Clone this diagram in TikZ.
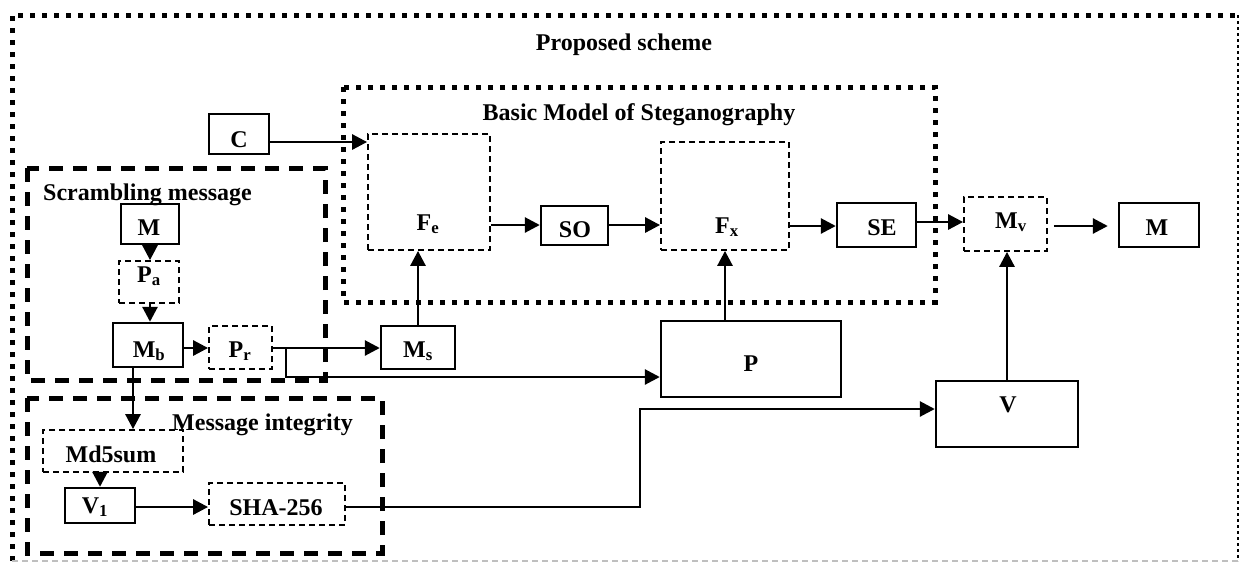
\documentclass[tikz,border=0pt]{standalone}
\usepackage{fontspec}
\setmainfont{Liberation Serif}
\usetikzlibrary{arrows.meta}
\begin{document}
\begin{tikzpicture}[x=1pt,y=-1pt,
  every node/.style={font=\fontsize{24}{28}\selectfont\bfseries},
  sbox/.style={draw,line width=2.4pt,inner sep=0pt},
  dbox/.style={draw,line width=1.8pt,dash pattern=on 6pt off 4pt,inner sep=0pt},
  txt/.style={inner sep=0pt,anchor=base},
  arr/.style={line width=2.8pt,-{Triangle[length=15pt,width=15pt]}},
  thickdot/.style={line width=5pt,dash pattern=on 5pt off 7pt},
  thickdash/.style={line width=5pt,dash pattern=on 14pt off 10pt}
]
\useasboundingbox (0,0) rectangle (1240,563);

% containers
\draw[thickdot] (12,561) -- (12,15) -- (1238,15);
\draw[line width=2.5pt,dash pattern=on 3pt off 3pt] (1238,15) -- (1238,561);
\draw[gray!50,line width=1.5pt,dash pattern=on 6pt off 4pt] (12,561) -- (1238,561);
\draw[thickdot] (343,87) rectangle (935,302);
\draw[thickdash] (27,168) rectangle (325,380);
\draw[thickdash] (27,398) rectangle (382,553);

\node[txt] (tProp) at (624,50) {Proposed scheme};
\node[txt] (tBasic) at (639,120) {Basic Model of Steganography};
\node[txt,anchor=base west] (tScr) at (43,200) {Scrambling message};
\node[txt,anchor=base west] (tInt) at (172,430) {Message integrity};

% boxes
\node[sbox,minimum width=60pt,minimum height=40pt] (C) at (239,134) {};
\node[dbox,minimum width=122pt,minimum height=116pt] (Fe) at (429,192) {};
\node[sbox,minimum width=67pt,minimum height=39pt] (SO) at (574.5,225.5) {};
\node[dbox,minimum width=128pt,minimum height=108pt] (Fx) at (725,196) {};
\node[sbox,minimum width=79pt,minimum height=44pt] (SE) at (876.5,225) {};
\node[dbox,minimum width=83pt,minimum height=54pt] (Mv) at (1005.5,224) {};
\node[sbox,minimum width=80pt,minimum height=44pt] (Mout) at (1159,225) {};
\node[sbox,minimum width=180pt,minimum height=76pt] (P) at (751,359) {};
\node[sbox,minimum width=142pt,minimum height=66pt] (V) at (1007,414) {};
\node[sbox,minimum width=58pt,minimum height=40pt] (Min) at (150,224) {};
\node[dbox,minimum width=60pt,minimum height=42pt] (Pa) at (149,282) {};
\node[sbox,minimum width=70pt,minimum height=44pt] (Mb) at (148,345) {};
\node[dbox,minimum width=63pt,minimum height=43pt] (Pr) at (240.5,347.5) {};
\node[sbox,minimum width=74pt,minimum height=43pt] (Ms) at (418,347.5) {};
\node[dbox,minimum width=140pt,minimum height=42pt] (Md) at (113,451) {};
\node[sbox,minimum width=70pt,minimum height=35pt] (V1) at (100,505.5) {};
\node[dbox,minimum width=136pt,minimum height=42pt] (SHA) at (277,504) {};

% labels
\node[txt] (lC) at (239,147) {C};
\node[txt] (lFe) at (428,230) {F\textsubscript{e}};
\node[txt] (lSO) at (575,237) {SO};
\node[txt] (lFx) at (727,233) {F\textsubscript{x}};
\node[txt] (lSE) at (882,235) {SE};
\node[txt] (lMv) at (1011,228) {M\textsubscript{v}};
\node[txt] (lMout) at (1157,235) {M};
\node[txt] (lP) at (751,371) {P};
\node[txt] (lV) at (1008,412) {V};
\node[txt] (lMin) at (149,235) {M};
\node[txt] (lPa) at (149,282) {P\textsubscript{a}};
\node[txt] (lMb) at (149,357) {M\textsubscript{b}};
\node[txt] (lPr) at (240,357) {P\textsubscript{r}};
\node[txt] (lMs) at (418,357) {M\textsubscript{s}};
\node[txt] (lMd) at (111,462) {Md5sum};
\node[txt] (lV1) at (95,513) {V\textsubscript{1}};
\node[txt] (lSHA) at (276,515) {SHA-256};

% connectors
\coordinate (br) at (286,348);
\coordinate (bend) at (640,507);
\draw[arr] (C.east |- 0,142) -- (Fe.west |- 0,142);
\draw[arr] (Fe.east |- 0,225) -- (SO.west |- 0,225);
\draw[arr] (SO.east |- 0,225) -- (Fx.west |- 0,225);
\draw[arr] (Fx.east |- 0,226) -- (SE.west |- 0,226);
\draw[arr] (SE.east |- 0,222) -- (Mv.west |- 0,222);
\draw[arr,shorten <=6pt,shorten >=10pt] (Mv.east |- 0,226) -- (Mout.west |- 0,226);
\draw[arr] (Min.south) -- (Min.south |- Pa.north);
\draw[arr] (Min.south |- Pa.south) -- (Min.south |- Mb.north);
\draw[arr] (Mb.east |- 0,348) -- (Pr.west |- 0,348);
\draw[arr] (Pr.east |- 0,348) -- (Ms.west |- 0,348);
\draw[arr] (br) -- (br |- 0,377) -- (P.west |- 0,377);
\draw[arr] (Ms.north) -- (Ms.north |- Fe.south);
\draw[arr] (133,0 |- Mb.south) -- (133,0 |- Md.north);
\draw[arr] (V1.north |- Md.south) -- (V1.north);
\draw[arr] (V1.east |- 0,507) -- (SHA.west |- 0,507);
\draw[arr] (SHA.east |- bend) -- (bend) -- (bend |- 0,409) -- (V.west |- 0,409);
\draw[arr] (Fx.south |- P.north) -- (Fx.south);
\draw[arr] (V.north) -- (V.north |- Mv.south);
\end{tikzpicture}
\end{document}
